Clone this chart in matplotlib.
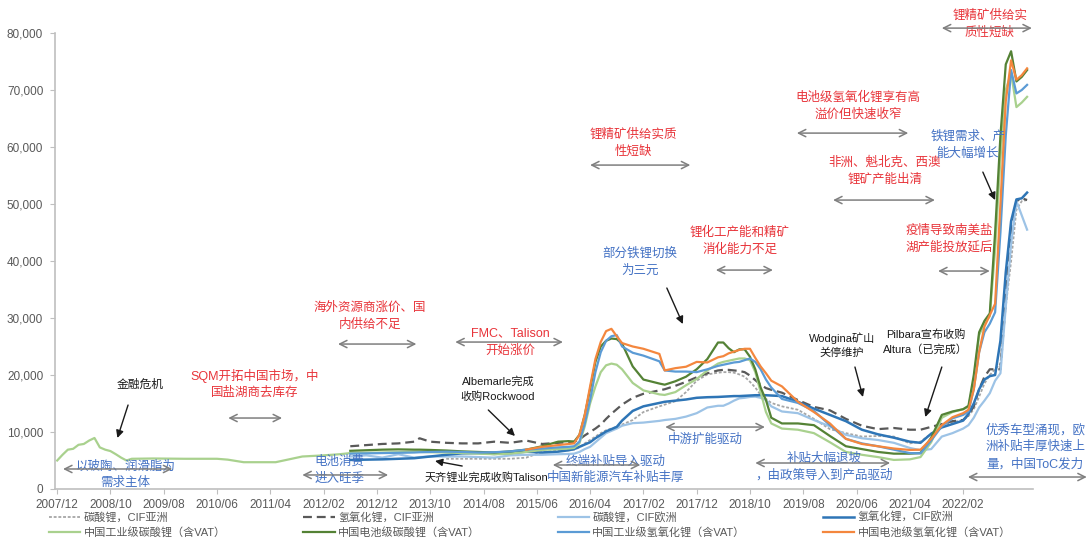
import matplotlib
matplotlib.use("Agg")
import matplotlib.pyplot as plt
from matplotlib.ticker import FuncFormatter
import numpy as np

plt.rcParams['font.family'] = ['Liberation Sans', 'Noto Sans CJK SC', 'DejaVu Sans']

# ---- data (USD/t) ----
# early part of the Chinese technical-grade carbonate series
early_months = ["2007/12", "2008/01", "2008/02", "2008/03", "2008/04", "2008/05", "2008/06",
                "2008/07", "2008/08", "2008/09", "2008/10", "2008/11", "2008/12", "2009/01",
                "2009/02", "2009/06", "2009/12", "2010/06", "2010/08", "2010/11", "2011/05",
                "2011/08", "2011/10", "2012/02", "2012/05"]
early_cn_tech_carb = [5000, 6000, 6900, 7050, 7750, 7900, 8500,
                      8950, 7300, 6900, 6650, 6100, 5500, 5000,
                      5300, 5350, 5300, 5300, 5150, 4700, 4700,
                      5300, 5700, 5900, 6100]

months = ["2012/07", "2012/10", "2013/01", "2013/04", "2013/07", "2013/08", "2013/10",
          "2014/01", "2014/04", "2014/07", "2014/10", "2015/01", "2015/04", "2015/07",
          "2015/10", "2015/12", "2016/01", "2016/02", "2016/03", "2016/04", "2016/05",
          "2016/06", "2016/07", "2016/08", "2016/09", "2016/10", "2016/12", "2017/02",
          "2017/05", "2017/06", "2017/08", "2017/10", "2017/12", "2018/02", "2018/04",
          "2018/05", "2018/06", "2018/07", "2018/08", "2018/09", "2018/10", "2018/11",
          "2018/12", "2019/01", "2019/02", "2019/04", "2019/07", "2019/10", "2020/01",
          "2020/04", "2020/07", "2020/10", "2021/01", "2021/04", "2021/06", "2021/08",
          "2021/10", "2021/12", "2022/02", "2022/03", "2022/04", "2022/05", "2022/06",
          "2022/07", "2022/08", "2022/09", "2022/10", "2022/11", "2022/12", "2023/01",
          "2023/02"]

carb_cif_asia = [None, None, None, None, None, None, None,
                 5300, 5300, 5300, 5300, 5300, 5500, 6500,
                 6700, 6800, 6900, 7300, 8000, 8600, 9200,
                 9800, 10300, 10600, 10900, 11300, 12100, 13500,
                 14500, 14800, 15400, 17000, 19000, 20100, 20400,
                 20500, 20500, 20400, 20100, 19700, 18800, 17800,
                 16500, 15800, 15100, 14500, 13900, 12300, 10500,
                 9800, 9200, 9300, 9200, 8000, 8300, 9700,
                 11100, 11700, 12100, 12800, 14000, 16200, 18500,
                 20000, 21000, 22000, 32000, 40000, 49000, 50500,
                 50700]

hydro_cif_asia = [7500, 7700, 7900, 8000, 8300, 8900, 8300,
                  8100, 8000, 8000, 8300, 8100, 8500, 7900,
                  8100, 8200, 8300, 8700, 9400, 10000, 10600,
                  11300, 12300, 13200, 14000, 14800, 16000, 16700,
                  17300, 17500, 18100, 18800, 19600, 20300, 20800,
                  20900, 20900, 20800, 20700, 20500, 19900, 19100,
                  18300, 17700, 17400, 16900, 15600, 14400, 13800,
                  12300, 11100, 10500, 10700, 10400, 10400, 10900,
                  11400, 11900, 12100, 13000, 14500, 17500, 19700,
                  21000, 21000, 21000, 33000, 46000, 50500, 51000,
                  50700]

carb_cif_eu = [5700, 5900, 5500, 6100, 5500, 5600, 5700,
               5700, 5700, 5600, 5500, 5900, 6000, 6000,
               6100, 6150, 6200, 6500, 7000, 7400, 8200,
               9000, 9800, 10200, 10600, 11100, 11550, 11650,
               11950, 12100, 12300, 12700, 13300, 14300, 14600,
               14600, 15000, 15500, 15900, 16000, 16150, 16200,
               16000, 15600, 14500, 13600, 13300, 12100, 11000,
               9500, 8900, 8600, 8100, 7200, 6800, 7000,
               9200, 9800, 10600, 11200, 12500, 14300, 15500,
               16800, 19000, 20300, 32000, 43000, 50500, 48000,
               45500]

hydro_cif_eu = [5100, 5150, 5200, 5300, 5400, 5500, 5700,
                6000, 6250, 6300, 6150, 6300, 6550, 6400,
                6550, 6800, 7000, 7400, 7800, 8200, 8900,
                9500, 10100, 10500, 10900, 12000, 13700, 14500,
                15100, 15300, 15500, 15700, 16000, 16100, 16150,
                16200, 16250, 16300, 16300, 16350, 16400, 16450,
                16450, 16450, 16400, 16300, 15300, 14100, 13000,
                11900, 10400, 9600, 9000, 8300, 8100, 9700,
                10800, 11400, 12000, 13200, 15000, 17500, 19200,
                19800, 20000, 26000, 38000, 47000, 50800, 51000,
                52000]

cn_tech_carb = [6300, 6350, 6400, 6450, 6500, 6500, 6450,
                6400, 6300, 6200, 6100, 6200, 6500, 6850,
                7000, 7100, 7200, 8000, 11000, 15000, 18000,
                20500, 21700, 22000, 21800, 21000, 18600, 17300,
                16600, 16500, 17000, 18200, 19300, 20800, 22000,
                22300, 22500, 22700, 22900, 22900, 22600, 20500,
                17000, 13500, 11500, 10600, 10400, 9800, 8200,
                6500, 6000, 5600, 5100, 5200, 5600, 8200,
                12500, 13500, 14000, 14400, 19000, 27000, 29000,
                30300, 42000, 58000, 70000, 73000, 67000, 67800,
                68800]

cn_batt_carb = [6700, 6800, 6900, 6950, 6900, 6900, 6850,
                6750, 6600, 6500, 6400, 6600, 6900, 7500,
                8300, 8400, 8300, 9500, 13000, 17500, 22300,
                25000, 26000, 26400, 26300, 25500, 21500, 19200,
                18500, 18300, 18900, 19700, 21000, 22800, 25700,
                25700, 24700, 24000, 24500, 24500, 23200, 21000,
                17800, 15600, 12500, 11500, 11500, 11200, 9300,
                7500, 7000, 6500, 6200, 6200, 6300, 9000,
                13000, 13600, 14000, 14600, 20000, 27500, 29500,
                30800, 45000, 62000, 74500, 76800, 71500, 72300,
                73500]

cn_tech_hydro = [6200, 6250, 6300, 6350, 6400, 6450, 6500,
                 6550, 6500, 6400, 6450, 6600, 6900, 7100,
                 7300, 7400, 7500, 8300, 11500, 15600, 20500,
                 24000, 26000, 26800, 27000, 25000, 23900, 23400,
                 22400, 20800, 20600, 20600, 20500, 21000, 21600,
                 21800, 22000, 22200, 22300, 22600, 22900, 22300,
                 21000, 19200, 17800, 15800, 15100, 13700, 11200,
                 8800, 8000, 7500, 6900, 6300, 6250, 8500,
                 11000, 12400, 13000, 13600, 17500, 24000, 27500,
                 29000, 31000, 45000, 62000, 73500, 69400, 70000,
                 70900]

cn_batt_hydro = [None, None, None, None, None, None, None,
                 None, None, None, None, None, 6900, 7400,
                 7700, 7900, 8000, 9500, 13000, 18000, 22800,
                 25800, 27700, 28100, 26800, 25600, 25000, 24600,
                 23700, 20800, 21200, 21450, 22300, 22200, 23100,
                 23300, 23800, 24100, 24400, 24600, 24600, 23000,
                 21500, 20300, 19000, 18000, 15300, 13500, 11500,
                 8800, 7900, 7500, 7100, 6850, 6900, 8800,
                 11200, 12600, 13300, 13900, 17500, 24000, 28500,
                 30500, 32500, 50000, 68000, 75200, 71800, 72600,
                 73800]

tick_labels = ["2007/12", "2008/10", "2009/08", "2010/06", "2011/04", "2012/02",
               "2012/12", "2013/10", "2014/08", "2015/06", "2016/04", "2017/02",
               "2017/12", "2018/10", "2019/08", "2020/06", "2021/04", "2022/02"]


def month_index(s):
    y, m = s.split("/")
    return (int(y) - 2007) * 12 + int(m) - 12


x = [month_index(s) for s in months]
x_early = [month_index(s) for s in early_months]

fig = plt.figure(figsize=(10.88, 5.42), dpi=100)
ax = fig.add_axes([0.0506, 0.0978, 0.8988, 0.8413])

series = [
    ("碳酸锂，CIF亚洲", carb_cif_asia, dict(color="#a6a6a6", lw=1.3, dashes=(1.6, 1.0))),
    ("氢氧化锂，CIF亚洲", hydro_cif_asia, dict(color="#595959", lw=1.6, dashes=(4, 2.2))),
    ("碳酸锂，CIF欧洲", carb_cif_eu, dict(color="#9dc3e6", lw=1.6)),
    ("氢氧化锂，CIF欧洲", hydro_cif_eu, dict(color="#2e75b6", lw=1.8)),
    ("中国工业级碳酸锂（含VAT）", early_cn_tech_carb + cn_tech_carb, dict(color="#a9d18e", lw=1.6)),
    ("中国电池级碳酸锂（含VAT）", cn_batt_carb, dict(color="#548235", lw=1.6)),
    ("中国工业级氢氧化锂（含VAT）", cn_tech_hydro, dict(color="#5b9bd5", lw=1.6)),
    ("中国电池级氢氧化锂（含VAT）", cn_batt_hydro, dict(color="#f4873e", lw=1.6)),
]

handles = []
for name, vals, style in series:
    xs = x_early + x if len(vals) > len(x) else x
    h, = ax.plot(xs, np.array(vals, dtype=float), label=name, **style)
    handles.append(h)

ax.set_xlim(-0.4, 183.1)
ax.set_ylim(0, 80000)
ax.set_xticks([month_index(s) for s in tick_labels])
ax.set_xticklabels(tick_labels)
ax.set_yticks(range(0, 80001, 10000))
ax.yaxis.set_major_formatter(FuncFormatter(lambda v, p: f"{int(v):,}"))
for s in ["top", "right"]:
    ax.spines[s].set_visible(False)
for s in ["left", "bottom"]:
    ax.spines[s].set_color("#bfbfbf")
    ax.spines[s].set_linewidth(1.2)
ax.tick_params(axis="both", direction="out", length=3.5, color="#bfbfbf",
               labelsize=8.5, labelcolor="#595959")
ax.tick_params(axis="y", pad=5)

RED = "#e8343a"
BLUE = "#4472c4"
BLACK = "#1a1a1a"
GREY = "#7f7f7f"

# text notes: (text, month, value, colour, size)
notes = [
    ("金融危机", 15.6, 18240, BLACK, 8.5),
    ("以玻陶、润滑脂为\n需求主体", 12.8, 2460, BLUE, 9),
    ("SQM开拓中国市场，中\n国盐湖商去库存", 37.1, 18420, RED, 9),
    ("海外资源商涨价、国\n内供给不足", 58.7, 30340, RED, 9),
    ("FMC、Talison\n开始涨价", 85.0, 25780, RED, 9),
    ("电池消费\n进入旺季", 52.9, 3330, BLUE, 9),
    ("Albemarle完成\n收购Rockwood", 82.7, 17540, BLACK, 8),
    ("天齐锂业完成收购Talison", 80.5, 2100, BLACK, 8),
    ("终端补贴导入驱动\n中国新能源汽车补贴丰厚", 104.7, 3330, BLUE, 9),
    ("锂精矿供给实质\n性短缺", 108.1, 60690, RED, 9),
    ("部分铁锂切换\n为三元", 109.4, 39820, BLUE, 9),
    ("锂化工产能和精矿\n消化能力不足", 128.1, 43500, RED, 9),
    ("中游扩能驱动", 121.6, 8600, BLUE, 9),
    ("电池级氢氧化锂享有高\n溢价但快速收窄", 150.3, 67180, RED, 9),
    ("非洲、魁北克、西澳\n锂矿产能出清", 155.3, 55780, RED, 9),
    ("Wodgina矿山\n关停维护", 147.3, 25260, BLACK, 8),
    ("补贴大幅退坡\n，由政策导入到产品驱动", 143.9, 3860, BLUE, 9),
    ("Pilbara宣布收购\nAltura（已完成）", 163.0, 25780, BLACK, 8),
    ("疫情导致南美盐\n湖产能投放延后", 167.4, 43850, RED, 9),
    ("铁锂需求、产\n能大幅增长", 170.9, 60340, BLUE, 9),
    ("锂精矿供给实\n质性短缺", 175.0, 81560, RED, 9),
    ("优秀车型涌现，欧\n洲补贴丰厚快速上\n量，中国ToC发力", 183.5, 7370, BLUE, 9),
]
for txt, mx, vy, col, fs in notes:
    ax.text(mx, vy, txt, color=col, fontsize=fs, ha="center", va="center",
            linespacing=1.5, clip_on=False)

# period arrows: (start month, end month, value)
spans = [
    (1.1, 21.6, 3510), (32.1, 42.2, 12450), (52.7, 67.4, 25430), (74.7, 94.9, 25780),
    (46.0, 62.1, 2460), (93.0, 109.4, 4210), (100.0, 118.8, 56830), (123.6, 134.3, 38410),
    (114.1, 132.8, 10870), (138.8, 159.7, 62440), (145.6, 164.7, 50690), (131.0, 156.3, 4560),
    (165.3, 175.0, 38240), (166.0, 182.9, 80860), (170.9, 193.2, 2100),
]
for m1, m2, vy in spans:
    ax.annotate("", xy=(m2, vy), xytext=(m1, vy), annotation_clip=False,
                arrowprops=dict(arrowstyle="<->", color=GREY, lw=1.1,
                                shrinkA=0, shrinkB=0, mutation_scale=13))

# pointer arrows: (from month, from value, to month, to value)
pointers = [
    (13.3, 14730, 11.3, 8950), (80.9, 13860, 85.9, 9300), (76.0, 4030, 70.9, 4910),
    (114.4, 35260, 117.4, 28940), (149.7, 21400, 151.2, 16140), (166.0, 21400, 162.9, 12630),
    (173.7, 55600, 176.0, 50690),
]
for m1, v1, m2, v2 in pointers:
    ax.annotate("", xy=(m2, v2), xytext=(m1, v1), annotation_clip=False,
                arrowprops=dict(arrowstyle="-|>", color=BLACK, lw=1.0,
                                shrinkA=0, shrinkB=0, mutation_scale=11))

order = [0, 4, 1, 5, 2, 6, 3, 7]
fig.legend([handles[i] for i in order], [series[i][0] for i in order],
           ncol=4, loc="lower left", bbox_to_anchor=(0.04, -0.003), frameon=False,
           fontsize=8, labelcolor="#595959", handlelength=2.8, handletextpad=0.3,
           columnspacing=7.0, labelspacing=0.4, borderaxespad=0.1)

fig.savefig("out.png", dpi=100)
